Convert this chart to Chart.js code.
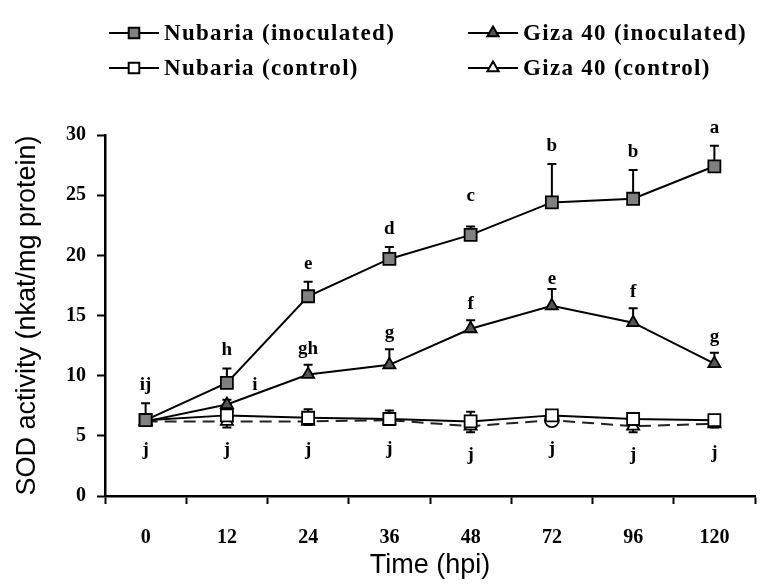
<!DOCTYPE html>
<html>
<head>
<meta charset="utf-8">
<script src="https://cdn.jsdelivr.net/npm/chart.js@4/dist/chart.umd.min.js"></script>
<style>
  html, body { margin: 0; padding: 0; background: #fff; }
  #wrap { width: 775px; height: 587px; position: relative; }
</style>
</head>
<body>
<div id="wrap"><canvas id="c"></canvas></div>
<script>
// ---- data ----
const times = ['0', '12', '24', '36', '48', '72', '96', '120'];
const nubariaInoc    = [6.3, 9.4, 16.6, 19.7, 21.7, 24.4, 24.7, 27.4];
const nubariaInocErr = [1.4, 1.2, 1.2, 1.0, 0.7, 3.2, 2.4, 1.7];
const gizaInoc       = [6.2, 7.6, 10.1, 10.9, 13.9, 15.8, 14.4, 11.0];
const gizaInocErr    = [0.4, 0.4, 0.8, 1.3, 0.7, 1.4, 1.2, 0.9];
const nubariaCtrl    = [6.3, 6.7, 6.5, 6.4, 6.2, 6.7, 6.4, 6.3];
const nubariaCtrlErr = [0.5, 0.4, 0.7, 0.7, 0.8, 0.4, 0.3, 0.3];
const gizaCtrl       = [6.2, 6.2, 6.2, 6.3, 5.8, 6.3, 5.8, 6.0];
const gizaCtrlErr    = [0.3, 0.5, 0.3, 0.3, 0.5, 0.3, 0.5, 0.3];
const nubariaLetters = ['ij', 'h', 'e', 'd', 'c', 'b', 'b', 'a'];
const gizaLetters    = ['', 'i', 'gh', 'g', 'f', 'e', 'f', 'g'];
const controlLetters = ['j', 'j', 'j', 'j', 'j', 'j', 'j', 'j'];
const yTicks = [0, 5, 10, 15, 20, 25, 30];

// ---- styles ----
const serifFamily = '"Liberation Serif", "Times New Roman", serif';
const sansFamily = '"Liberation Sans", Arial, sans-serif';
// [dx, dy] pixel nudges for letters that sit off the default spot
const letterNudge = { 'giza-1': [28, 1], 'giza-5': [0, 6], 'nub-4': [0, -12] };

const datasets = [
  { label: 'Nubaria (inoculated)', data: nubariaInoc, err: nubariaInocErr, errDir: 1,
    borderColor: '#000', borderWidth: 2, backgroundColor: '#808080',
    pointStyle: 'rect', pointRadius: 8.5, pointBorderColor: '#000', pointBorderWidth: 1.8,
    pointBackgroundColor: '#808080', tension: 0 },
  { label: 'Giza 40 (inoculated)', data: gizaInoc, err: gizaInocErr, errDir: 1,
    borderColor: '#000', borderWidth: 2, backgroundColor: '#555',
    pointStyle: 'triangle', pointRadius: 7, pointBorderColor: '#000', pointBorderWidth: 1.8,
    pointBackgroundColor: '#555', tension: 0 },
  { label: 'Nubaria (control)', data: nubariaCtrl, err: nubariaCtrlErr, errDir: 1,
    borderColor: '#000', borderWidth: 2, backgroundColor: '#fff',
    pointStyle: 'rect', pointRadius: 8.5, pointBorderColor: '#000', pointBorderWidth: 1.8,
    pointBackgroundColor: '#fff', tension: 0 },
  { label: 'Giza 40 (control)', data: gizaCtrl, err: gizaCtrlErr, errDir: -1,
    borderColor: '#222', borderWidth: 2, borderDash: [12, 7], backgroundColor: '#fff',
    pointStyle: ['triangle', 'triangle', 'triangle', 'triangle', 'triangle', 'circle', 'triangle', 'triangle'],
    pointRadius: 7, pointBorderColor: '#000', pointBorderWidth: 1.8,
    pointBackgroundColor: '#fff', tension: 0 }
];

const errorBars = {
  id: 'errorBars',
  beforeDatasetsDraw(chart) {
    const ctx = chart.ctx, y = chart.scales.y;
    ctx.save();
    ctx.strokeStyle = '#000';
    ctx.lineWidth = 2;
    chart.data.datasets.forEach((ds, di) => {
      const meta = chart.getDatasetMeta(di);
      meta.data.forEach((pt, i) => {
        const y0 = y.getPixelForValue(ds.data[i]);
        const y1 = y.getPixelForValue(ds.data[i] + ds.errDir * ds.err[i]);
        ctx.beginPath();
        ctx.moveTo(pt.x, y0); ctx.lineTo(pt.x, y1);
        ctx.moveTo(pt.x - 4.5, y1); ctx.lineTo(pt.x + 4.5, y1);
        ctx.stroke();
      });
    });
    ctx.restore();
  }
};

const letters = {
  id: 'letters',
  afterDatasetsDraw(chart) {
    const ctx = chart.ctx, y = chart.scales.y, x = chart.scales.x;
    ctx.save();
    ctx.fillStyle = '#000';
    ctx.font = 'bold 19px ' + serifFamily;
    ctx.textAlign = 'center';
    ctx.textBaseline = 'middle';
    times.forEach((t, i) => {
      const px = x.getPixelForValue(i);
      let n = letterNudge['nub-' + i] || [0, 0];
      let top = y.getPixelForValue(nubariaInoc[i] + nubariaInocErr[i]);
      ctx.fillText(nubariaLetters[i], px + n[0], top - 18 + n[1]);
      if (gizaLetters[i]) {
        n = letterNudge['giza-' + i] || [0, 0];
        top = y.getPixelForValue(gizaInoc[i] + gizaInocErr[i]);
        ctx.fillText(gizaLetters[i], px + n[0], top - 16 + n[1]);
      }
      const low = y.getPixelForValue(Math.min(nubariaCtrl[i], gizaCtrl[i]));
      ctx.fillText(controlLetters[i], px, low + 29);
    });
    ctx.restore();
  }
};

const legendGrid = {
  id: 'legendGrid',
  afterDraw(chart) {
    const ctx = chart.ctx;
    const cols = [109, 468], rows = [33, 68];
    const order = [[0, 0, 0], [1, 1, 0], [2, 0, 1], [3, 1, 1]];
    ctx.save();
    order.forEach(([di, c, r]) => {
      const ds = chart.data.datasets[di];
      const x0 = cols[c], yy = rows[r];
      ctx.strokeStyle = '#000';
      ctx.lineWidth = 2;
      ctx.setLineDash([]);
      ctx.beginPath(); ctx.moveTo(x0, yy); ctx.lineTo(x0 + 50, yy); ctx.stroke();
      ctx.fillStyle = ds.pointBackgroundColor;
      const style = Array.isArray(ds.pointStyle) ? ds.pointStyle[0] : ds.pointStyle;
      Chart.helpers.drawPoint(ctx, { pointStyle: style, radius: style === 'rect' ? 7.5 : 6.5, rotation: 0, borderWidth: 1.6 }, x0 + 25, yy);
      ctx.fillStyle = '#000';
      ctx.font = 'bold 23px ' + serifFamily;
      if ('letterSpacing' in ctx) ctx.letterSpacing = '1.3px';
      ctx.textAlign = 'left';
      ctx.textBaseline = 'middle';
      ctx.fillText(ds.label, x0 + 55, yy + 1);
      if ('letterSpacing' in ctx) ctx.letterSpacing = '0px';
    });
    ctx.restore();
  }
};

new Chart(document.getElementById('c'), {
  type: 'line',
  data: { labels: times, datasets },
  options: {
    responsive: true,
    maintainAspectRatio: false,
    animation: false,
    layout: { padding: { left: 0, top: 135, right: 20, bottom: 0 } },
    plugins: { legend: { display: false }, tooltip: { enabled: false } },
    scales: {
      x: {
        type: 'category',
        offset: true,
        grid: { offset: true, drawOnChartArea: false, drawTicks: true, tickLength: 8, tickColor: '#000', tickWidth: 2 },
        border: { display: true, color: '#000', width: 2.5 },
        ticks: { color: '#000', font: { family: serifFamily, size: 20, weight: 'bold' }, padding: 22, maxRotation: 0 },
        title: { display: true, text: 'Time (hpi)', color: '#000', font: { family: sansFamily, size: 27 }, padding: { top: 0, bottom: 5 } },
        afterFit(s) { s.height = 91; }
      },
      y: {
        min: 0, max: 30,
        afterBuildTicks(s) { s.ticks = yTicks.map(v => ({ value: v })); },
        grid: { drawOnChartArea: false, drawTicks: true, tickLength: 8, tickColor: '#000', tickWidth: 2 },
        border: { display: true, color: '#000', width: 2.5 },
        ticks: { color: '#000', font: { family: serifFamily, size: 20, weight: 'bold' }, padding: 11 },
        title: { display: true, text: 'SOD activity (nkat/mg protein)', color: '#000', font: { family: sansFamily, size: 27 }, padding: { top: 11, bottom: 0 } },
        afterFit(s) { s.width = 105; }
      }
    }
  },
  plugins: [errorBars, letters, legendGrid]
});
</script>
</body>
</html>
